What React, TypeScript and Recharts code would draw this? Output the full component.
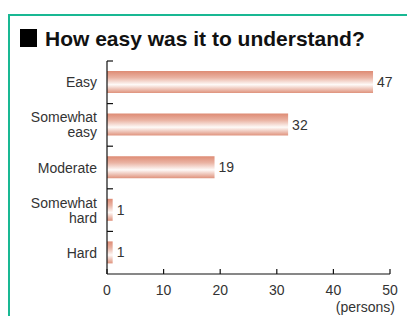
import { BarChart, Bar, XAxis, YAxis, LabelList } from 'recharts';

const categories = ['Easy', 'Somewhat\neasy', 'Moderate', 'Somewhat\nhard', 'Hard'];
const persons = [47, 32, 19, 1, 1];
const xTicks = [0, 10, 20, 30, 40, 50];

const data = categories.map((name, i) => ({ name, value: persons[i] }));

const TOP = 61;
const PLOT_H = 213;
const AXIS_X = 107;
const FONT = '"Liberation Sans", Arial, Helvetica, sans-serif';

const YTick = (props: any) => {
  const { x, y, payload } = props;
  const band = PLOT_H / categories.length;
  const lines = String(payload.value).split('\n');
  const lh = 15;
  const start = y - ((lines.length - 1) * lh) / 2;
  return (
    <g>
      <line x1={x} x2={x + 6} y1={y - band / 2} y2={y - band / 2} stroke="#111" strokeWidth={1.2} />
      <text x={x - 10} y={start} textAnchor="end" dominantBaseline="central" fontSize={14} fill="#333" fontFamily={FONT}>
        {lines.map((l, i) => (
          <tspan key={i} x={x - 10} dy={i === 0 ? 0 : lh}>
            {l}
          </tspan>
        ))}
      </text>
    </g>
  );
};

const XTick = (props: any) => {
  const { x, y, payload } = props;
  return (
    <g>
      <line x1={x} x2={x} y1={y} y2={y - 5} stroke="#111" strokeWidth={1.2} />
      <text x={x} y={y + 16} textAnchor="middle" dominantBaseline="central" fontSize={14} fill="#333" fontFamily={FONT}>
        {payload.value}
      </text>
    </g>
  );
};

export default function App() {
  return (
    <div style={{ position: 'absolute', left: 0, top: 0, width: 407, height: 316, background: '#fff', overflow: 'hidden' }}>
      <div
        style={{
          position: 'absolute',
          left: 8,
          top: 14,
          width: 420,
          height: 320,
          borderTop: '2px solid #19b893',
          borderLeft: '2px solid #19b893',
        }}
      />
      <div style={{ position: 'absolute', left: 20, top: 29, width: 17, height: 18, background: '#000' }} />
      <div
        style={{
          position: 'absolute',
          left: 45,
          top: 27,
          fontFamily: FONT,
          fontWeight: 'bold',
          fontSize: 21,
          lineHeight: 'normal',
          color: '#111',
          whiteSpace: 'nowrap',
        }}
      >
        How easy was it to understand?
      </div>
      <div style={{ position: 'absolute', left: 0, top: 0 }}>
        <BarChart
          width={407}
          height={316}
          data={data}
          layout="vertical"
          margin={{ top: TOP, right: 17, bottom: 0, left: 0 }}
        >
          <defs>
            <linearGradient id="barGrad" x1="0" y1="0" x2="0" y2="1">
              <stop offset="0%" stopColor="#de8b74" />
              <stop offset="30%" stopColor="#eab3a3" />
              <stop offset="62%" stopColor="#fefaf8" />
              <stop offset="100%" stopColor="#df927c" />
            </linearGradient>
          </defs>
          <XAxis
            type="number"
            domain={[0, 50]}
            ticks={xTicks}
            height={316 - TOP - PLOT_H}
            axisLine={{ stroke: '#111', strokeWidth: 1.2 }}
            tickLine={false}
            tickSize={0}
            tickMargin={0}
            tick={<XTick />}
            interval={0}
          />
          <YAxis
            type="category"
            dataKey="name"
            width={AXIS_X}
            axisLine={{ stroke: '#111', strokeWidth: 1.2 }}
            tickLine={false}
            tickSize={0}
            tickMargin={0}
            tick={<YTick />}
            interval={0}
          />
          <Bar dataKey="value" fill="url(#barGrad)" barSize={22} isAnimationActive={false}>
            <LabelList dataKey="value" position="right" offset={4} fontSize={14} fill="#333" fontFamily={FONT} />
          </Bar>
        </BarChart>
      </div>
      <div
        style={{
          position: 'absolute',
          right: 12,
          top: 299,
          fontFamily: FONT,
          fontSize: 14,
          color: '#333',
        }}
      >
        (persons)
      </div>
    </div>
  );
}
